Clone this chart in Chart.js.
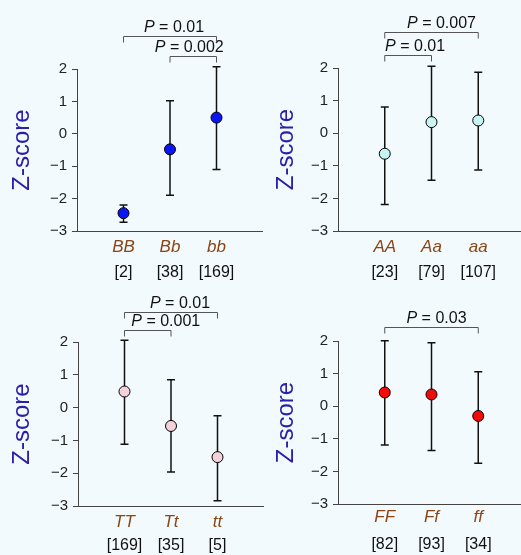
<!DOCTYPE html>
<html>
<head>
<meta charset="utf-8">
<script src="https://cdn.jsdelivr.net/npm/chart.js@4.4.0/dist/chart.umd.min.js"></script>
<style>
  body { margin: 0; width: 521px; height: 555px; background: #f2fafd; position: relative; overflow: hidden; }
  canvas { position: absolute; }
</style>
</head>
<body>
<canvas id="c1" width="263" height="280" style="left:0px;top:0px"></canvas>
<canvas id="c2" width="261" height="280" style="left:264px;top:0px"></canvas>
<canvas id="c3" width="264" height="275" style="left:0px;top:280px"></canvas>
<canvas id="c4" width="261" height="275" style="left:264px;top:280px"></canvas>
<script>
// Datos de cada panel: genotipos, n, media y limites de la barra de error
const genotipos1 = ["BB", "Bb", "bb"];
const n1 = ["[2]", "[38]", "[169]"];
const media1 = [-2.45, -0.48, 0.5];
const sup1 = [-2.2, 1.02, 2.07];
const inf1 = [-2.73, -1.9, -1.1];

const genotipos2 = ["AA", "Aa", "aa"];
const n2 = ["[23]", "[79]", "[107]"];
const media2 = [-0.63, 0.34, 0.39];
const sup2 = [0.8, 2.05, 1.87];
const inf2 = [-2.19, -1.44, -1.13];

const genotipos3 = ["TT", "Tt", "tt"];
const n3 = ["[169]", "[35]", "[5]"];
const media3 = [0.49, -0.56, -1.51];
const sup3 = [2.05, 0.85, -0.25];
const inf3 = [-1.12, -1.96, -2.84];

const genotipos4 = ["FF", "Ff", "ff"];
const n4 = ["[82]", "[93]", "[34]"];
const media4 = [0.42, 0.36, -0.3];
const sup4 = [2.01, 1.95, 1.06];
const inf4 = [-1.19, -1.36, -1.75];

// comparaciones: grupo a, grupo b, valor P
const pares1 = [[2, 3, "0.002"], [1, 3, "0.01"]];
const pares2 = [[1, 2, "0.01"], [1, 3, "0.007"]];
const pares3 = [[1, 2, "0.001"], [1, 3, "0.01"]];
const pares4 = [[1, 3, "0.03"]];

const yTicks = [-3, -2, -1, 0, 1, 2];

Chart.defaults.font.family = 'Arial, "Liberation Sans", sans-serif';

// barras de error detras de los puntos
const barrasError = {
  id: "barrasError",
  beforeDatasetsDraw(chart, args, opts) {
    const ctx = chart.ctx;
    const x = chart.scales.x, y = chart.scales.y;
    ctx.save();
    ctx.strokeStyle = "#111";
    ctx.lineWidth = 1.5;
    opts.sup.forEach(function (s, i) {
      const px = x.getPixelForValue(i + 1);
      const yt = y.getPixelForValue(s);
      const yb = y.getPixelForValue(opts.inf[i]);
      ctx.beginPath();
      ctx.moveTo(px, yt); ctx.lineTo(px, yb);
      ctx.moveTo(px - 4, yt); ctx.lineTo(px + 4, yt);
      ctx.moveTo(px - 4, yb); ctx.lineTo(px + 4, yb);
      ctx.stroke();
    });
    ctx.restore();
  }
};

// corchetes con el valor P encima del grafico
const corchetes = {
  id: "corchetes",
  afterDraw(chart, args, opts) {
    const ctx = chart.ctx;
    const x = chart.scales.x, y = chart.scales.y;
    const base = y.getPixelForValue(2);
    const fuente = "16px Arial, 'Liberation Sans', sans-serif";
    ctx.save();
    opts.pares.forEach(function (p, i) {
      const xa = x.getPixelForValue(p[0]);
      const xb = x.getPixelForValue(p[1]);
      const ly = Math.round(base - opts.alturas[i]) + 0.5;
      ctx.strokeStyle = "#555";
      ctx.lineWidth = 1;
      ctx.beginPath();
      ctx.moveTo(xa, ly + 6); ctx.lineTo(xa, ly); ctx.lineTo(xb, ly); ctx.lineTo(xb, ly + 6);
      ctx.stroke();
      // texto "P = valor", con la P en cursiva
      const resto = " = " + p[2];
      ctx.font = "italic " + fuente;
      const wP = ctx.measureText("P").width;
      ctx.font = fuente;
      const wR = ctx.measureText(resto).width;
      const cx = (xa + xb) / 2 + opts.dx[i];
      const ty = ly - 9;
      ctx.fillStyle = "#111";
      ctx.textBaseline = "middle";
      ctx.textAlign = "left";
      ctx.font = "italic " + fuente;
      ctx.fillText("P", cx - (wP + wR) / 2, ty);
      ctx.font = fuente;
      ctx.fillText(resto, cx - (wP + wR) / 2 + wP, ty);
    });
    ctx.restore();
  }
};

function crearPanel(id, genotipos, n, media, sup, inf, pares, color, caja) {
  new Chart(id, {
    type: "scatter",
    data: {
      datasets: [{
        data: media.map(function (m, i) { return { x: i + 1, y: m }; }),
        backgroundColor: color,
        borderColor: "#000",
        borderWidth: 1,
        pointRadius: 5.5,
        clip: false
      }]
    },
    plugins: [barrasError, corchetes],
    options: {
      responsive: false,
      animation: false,
      devicePixelRatio: 1,
      layout: { autoPadding: false, padding: { left: 0, right: 0, top: caja.top, bottom: caja.bottom } },
      plugins: {
        legend: { display: false },
        tooltip: { enabled: false },
        barrasError: { sup: sup, inf: inf },
        corchetes: { pares: pares, alturas: caja.alturas, dx: caja.dx }
      },
      scales: {
        x: {
          type: "linear", position: "bottom", weight: 0, min: 0, max: 4,
          afterFit: function (s) { s.height = 28; s.paddingRight = 0; },
          grid: { drawOnChartArea: false, drawTicks: false },
          border: { display: true, color: "#444", width: 1 },
          ticks: {
            stepSize: 1, autoSkip: false, maxRotation: 0, padding: caja.padCat,
            color: "#8a4513", font: { size: 17, style: "italic" },
            callback: function (v) { return genotipos[v - 1] || ""; }
          }
        },
        x2: {
          type: "linear", position: "bottom", weight: 1, min: 0, max: 4,
          afterFit: function (s) { s.height = 21; s.paddingRight = 0; },
          grid: { display: false, drawTicks: false },
          border: { display: false },
          ticks: {
            stepSize: 1, autoSkip: false, maxRotation: 0, padding: caja.padN,
            color: "#111", font: { size: 16 },
            callback: function (v) { return n[v - 1] || ""; }
          }
        },
        y: {
          min: -3, max: 2,
          afterFit: function (s) { s.width = caja.left; },
          afterBuildTicks: function (s) { s.ticks = yTicks.map(function (v) { return { value: v }; }); },
          grid: { drawOnChartArea: false, drawTicks: true, tickLength: 5, color: "#444" },
          border: { display: true, color: "#444", width: 1 },
          title: {
            display: true, text: "Z-score", color: "#2a20a8",
            font: { size: 24 }, padding: { top: 8, bottom: 0 }
          },
          ticks: {
            padding: 5, color: "#222", font: { size: 15 },
            callback: function (v) { return v < 0 ? "\u2212" + Math.abs(v) : String(v); }
          }
        }
      }
    }
  });
}

crearPanel("c1", genotipos1, n1, media1, sup1, inf1, pares1, "#0a14f5",
  { left: 77, top: 69, bottom: 0, padCat: 6, padN: 4, alturas: [13, 33], dx: [-4, 4] });
crearPanel("c2", genotipos2, n2, media2, sup2, inf2, pares2, "#c8f4f4",
  { left: 74, top: 68, bottom: 0, padCat: 6, padN: 4, alturas: [13, 36], dx: [7, 10] });
crearPanel("c3", genotipos3, n3, media3, sup3, inf3, pares3, "#f4d2dc",
  { left: 78, top: 62, bottom: 0, padCat: 6, padN: 2, alturas: [12, 30], dx: [18, 9] });
crearPanel("c4", genotipos4, n4, media4, sup4, inf4, pares4, "#f50a0a",
  { left: 74, top: 61, bottom: 2, padCat: 3, padN: 3, alturas: [14], dx: [5] });
</script>
</body>
</html>
